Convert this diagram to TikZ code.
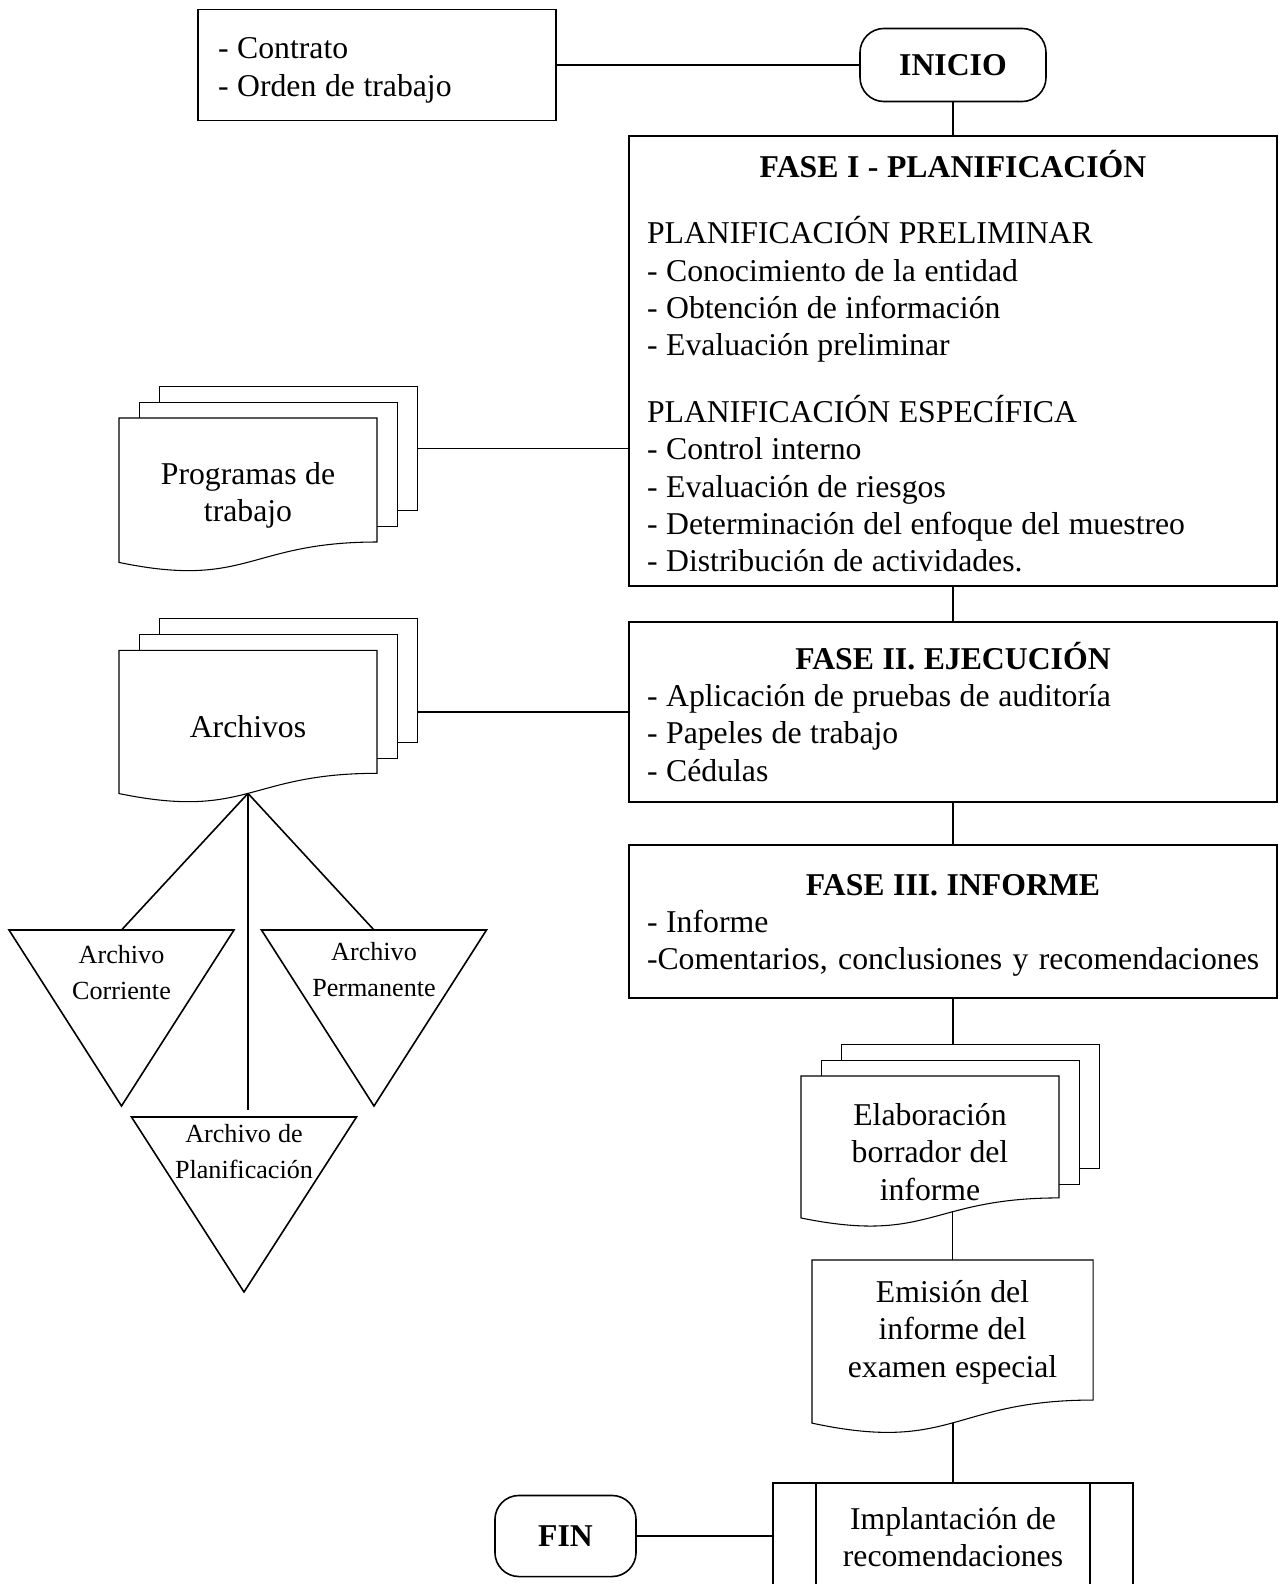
\documentclass[tikz,border=0pt]{standalone}
\usepackage{fontspec}
\setmainfont[WordSpace=1.08]{Liberation Serif}
\usetikzlibrary{positioning,calc,backgrounds}
\setlength{\parindent}{0pt}
\newcommand{\docoutline}[1]{%
    \draw[fill=white] (#1.north west) -- (#1.north east)
        -- ($(#1.north east)!0.802!(#1.south east)$)
        .. controls ($(#1.north)!0.802!(#1.south)$) and ($(#1.north)!1.107!(#1.south)$)
        .. ($(#1.north west)!0.934!(#1.south west)$) -- cycle;}

\begin{document}
\begin{tikzpicture}[
x=0.375pt, y=-0.375pt,
line width=0.6pt,
font=\fontsize{11.9}{14}\selectfont,
textbox/.style={rectangle, draw, align=flush left, inner xsep=6.75pt},
phasebox/.style={textbox, text width=229.5pt},
termnode/.style={rectangle, draw, rounded corners=9pt, font=\fontsize{11.9}{14}\selectfont\bfseries, minimum width=69.75pt, minimum height=27.4pt},
docnode/.style={rectangle, outer sep=0pt, align=flush center, text width=90pt, minimum width=96.75pt},
sheetnode/.style={rectangle, draw, fill=white, anchor=north west, minimum width=96.75pt, minimum height=46.5pt},
tritext/.style={align=flush center, font=\fontsize{9.8}{13.5}\selectfont},
procnode/.style={rectangle, draw, align=flush center, minimum width=135pt, minimum height=40.5pt}
]
    \useasboundingbox (0,0) rectangle (1279,1584);

    %Nodes
    \node[termnode] (inicio) at (953,65) {INICIO};
    \node[textbox, text width=119.25pt, inner xsep=7.5pt, minimum height=41.6pt,
        font=\fontsize{11.9}{14.4}\selectfont, text depth=13pt]
        (contrato) at (377,65) {- Contrato\\- Orden de trabajo};
    \node[phasebox, minimum height=168.75pt, below=12.4pt of inicio] (fase1) {%
        \makebox[\hsize]{\bfseries FASE I - PLANIFICACIÓN}\\[11pt]
        PLANIFICACIÓN PRELIMINAR\\
        - Conocimiento de la entidad\\
        - Obtención de información\\
        - Evaluación preliminar\\[11pt]
        PLANIFICACIÓN ESPECÍFICA\\
        - Control interno\\
        - Evaluación de riesgos\\
        - Determinación del enfoque del muestreo\\
        - Distribución de actividades.};
    \node[phasebox, minimum height=67.5pt, below=12.75pt of fase1] (fase2) {%
        \makebox[\hsize]{\bfseries FASE II. EJECUCIÓN}\\
        - Aplicación de pruebas de auditoría\\
        - Papeles de trabajo\\
        - Cédulas};
    \node[phasebox, minimum height=57.4pt, below=15.5pt of fase2, text depth=27.5pt] (fase3) {%
        \makebox[\hsize]{\bfseries FASE III. INFORME}\\
        - Informe\\
        \mbox{\spaceskip=0.33em\xspaceskip=0.33em -Comentarios, conclusiones y recomendaciones}};

    \node[docnode, minimum height=58pt] (prog) at (248,495.3) {Programas de\\trabajo};
    \node[docnode, minimum height=57.5pt] (arch) at (248,727) {Archivos};
    \node[docnode, minimum height=57pt] (elab) at (930,1152) {Elaboración\\borrador del\\informe};
    \node[docnode, minimum width=105.4pt, text width=95pt, minimum height=65.5pt, text depth=42pt]
        (emis) at (952.5,1347.3) {Emisión del\\informe del\\examen especial};
    \node[procnode] (impl) at (953,1537) {Implantación de\\recomendaciones};
    \node[termnode, minimum width=52.9pt, minimum height=30.4pt] (fin) at (565.5,1536) {FIN};

    \coordinate (corr-top) at (121.5,930);
    \coordinate (perm-top) at (374,930);
    \coordinate (plan-top) at (244,1117);
    \node[tritext] (corr) at ($(corr-top)+(0,43)$) {Archivo\\Corriente};
    \node[tritext] (perm) at ($(perm-top)+(0,40)$) {Archivo\\Permanente};
    \node[tritext] (plan) at ($(plan-top)+(0,34.5)$) {Archivo de\\Planificación};
    \coordinate (arch-w) at ($(arch.north)!0.933!(arch.south)$);
    \coordinate (plan-end) at ($(arch-w |- plan-top)+(0,-7)$);

    %Sheets behind the text
    \begin{scope}[on background layer]
        \draw (emis.north) -- (emis.north |- elab.center);
        \draw (impl.north) -- (impl.north |- emis.center);
        \node[sheetnode] (prog3) at ([shift={(15pt,12pt)}]prog.north west) {};
        \node[sheetnode] (prog2) at ([shift={(7.5pt,6pt)}]prog.north west) {};
        \docoutline{prog}
        \node[sheetnode] (arch3) at ([shift={(15pt,12pt)}]arch.north west) {};
        \node[sheetnode] (arch2) at ([shift={(7.5pt,6pt)}]arch.north west) {};
        \docoutline{arch}
        \node[sheetnode] (elab3) at ([shift={(15pt,12pt)}]elab.north west) {};
        \node[sheetnode] (elab2) at ([shift={(7.5pt,6pt)}]elab.north west) {};
        \docoutline{elab}
        \docoutline{emis}
    \end{scope}

    %Triangles
    \draw (corr-top) ++(-112.5,0) -- ++(225,0) -- ++(-112.5,176) -- cycle;
    \draw (perm-top) ++(-112.5,0) -- ++(225,0) -- ++(-112.5,176) -- cycle;
    \draw (plan-top) ++(-112.5,0) -- ++(225,0) -- ++(-112.5,175) -- cycle;

    %Lines
    \draw (contrato.east) -- (inicio.west);
    \draw (inicio.south) -- (fase1.north);
    \draw (fase1.south) -- (fase2.north);
    \draw (fase2.south) -- (fase3.north);
    \draw (fase3.south) -- (fase3.south |- elab3.north);
    \draw (prog3.east) -- (prog3.east -| fase1.west);
    \draw (fase2.west) -- (fase2.west -| arch3.east);
    \draw (arch-w) -- (corr-top);
    \draw (arch-w) -- (perm-top);
    \draw (arch-w) -- (plan-end);
    \draw (fin.east) -- (fin.east -| impl.west);
    \draw ([xshift=16.5pt]impl.north west) -- ([xshift=16.5pt]impl.south west);
    \draw ([xshift=-16.5pt]impl.north east) -- ([xshift=-16.5pt]impl.south east);
\end{tikzpicture}
\end{document}
